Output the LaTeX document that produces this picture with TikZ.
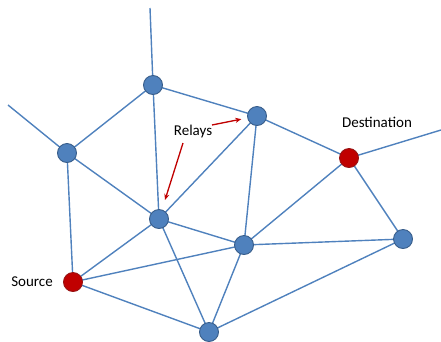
\documentclass[tikz,border=0pt]{standalone}
\usepackage{fontspec}
\setmainfont{Carlito}
\definecolor{relayblue}{RGB}{79,129,189}
\definecolor{relayedge}{RGB}{56,93,138}
\definecolor{endred}{RGB}{192,0,0}
\definecolor{endedge}{RGB}{150,20,20}
\usetikzlibrary{arrows.meta}

\begin{document}
\begin{tikzpicture}[
    x=1pt, y=-1pt,
    relay/.style={circle, draw=relayedge, fill=relayblue, line width=0.9pt,
      minimum size=19pt, inner sep=0pt},
    terminal/.style={circle, draw=endedge, fill=endred, line width=0.9pt,
      minimum size=19pt, inner sep=0pt},
    link/.style={draw=relayblue, line width=1.4pt},
    lbl/.style={font=\fontsize{15}{17}\selectfont, text=black},
    pointer/.style={draw=endred, line width=1.3pt, shorten >=6pt,
      -{Stealth[length=6pt,width=5pt]}}
  ]
  \useasboundingbox (0,0) rectangle (441,341);

  %% ===== loose ends =====
  \coordinate (topend)   at (150,8);
  \coordinate (leftend)  at (8,105);
  \coordinate (rightend) at (441,130);

  %% ===== links (behind the nodes) =====
  \coordinate (pa) at (153,85);
  \coordinate (pb) at (67,153);
  \coordinate (pc) at (257,116);
  \coordinate (pd) at (349,158);
  \coordinate (pe) at (159,219);
  \coordinate (pf) at (244,245);
  \coordinate (pg) at (403,239);
  \coordinate (ps) at (73,282);
  \coordinate (ph) at (209,332);

  \draw[link] (pa) -- (topend);
  \draw[link] (pb) -- (leftend);
  \draw[link] (pd) -- (rightend);
  \draw[link] (pa) -- (pb);
  \draw[link] (pa) -- (pc);
  \draw[link] (pa) -- (pe);
  \draw[link] (pb) -- (pe);
  \draw[link] (pb) -- (ps);
  \draw[link] (pc) -- (pe);
  \draw[link] (pc) -- (pf);
  \draw[link] (pc) -- (pd);
  \draw[link] (pd) -- (pf);
  \draw[link] (pd) -- (pg);
  \draw[link] (pe) -- (pf);
  \draw[link] (pe) -- (ps);
  \draw[link] (pe) -- (ph);
  \draw[link] (pf) -- (pg);
  \draw[link] (pf) -- (ps);
  \draw[link] (pf) -- (ph);
  \draw[link] (pg) -- (ph);
  \draw[link] (ps) -- (ph);

  %% ===== nodes =====
  \node[relay] (na) at (pa) {};
  \node[relay] (nb) at (pb) {};
  \node[relay] (nc) at (pc) {};
  \node[terminal] (nd) at (pd) {};
  \node[relay] (ne) at (pe) {};
  \node[relay] (nf) at (pf) {};
  \node[relay] (ng) at (pg) {};
  \node[terminal] (ns) at (ps) {};
  \node[relay] (nh) at (ph) {};

  %% ===== labels =====
  \node[lbl] (relays) at (193,131) {Relays};
  \node[lbl] (dest)   at (377,122) {Destination};
  \node[lbl] (src)    at (32,282)  {Source};

  \coordinate (relaysR) at (212,125);
  \coordinate (relaysB) at (183,143);
  \draw[pointer] (relaysR) -- (nc);
  \draw[pointer, shorten >=10pt] (relaysB) -- (ne);
\end{tikzpicture}
\end{document}
